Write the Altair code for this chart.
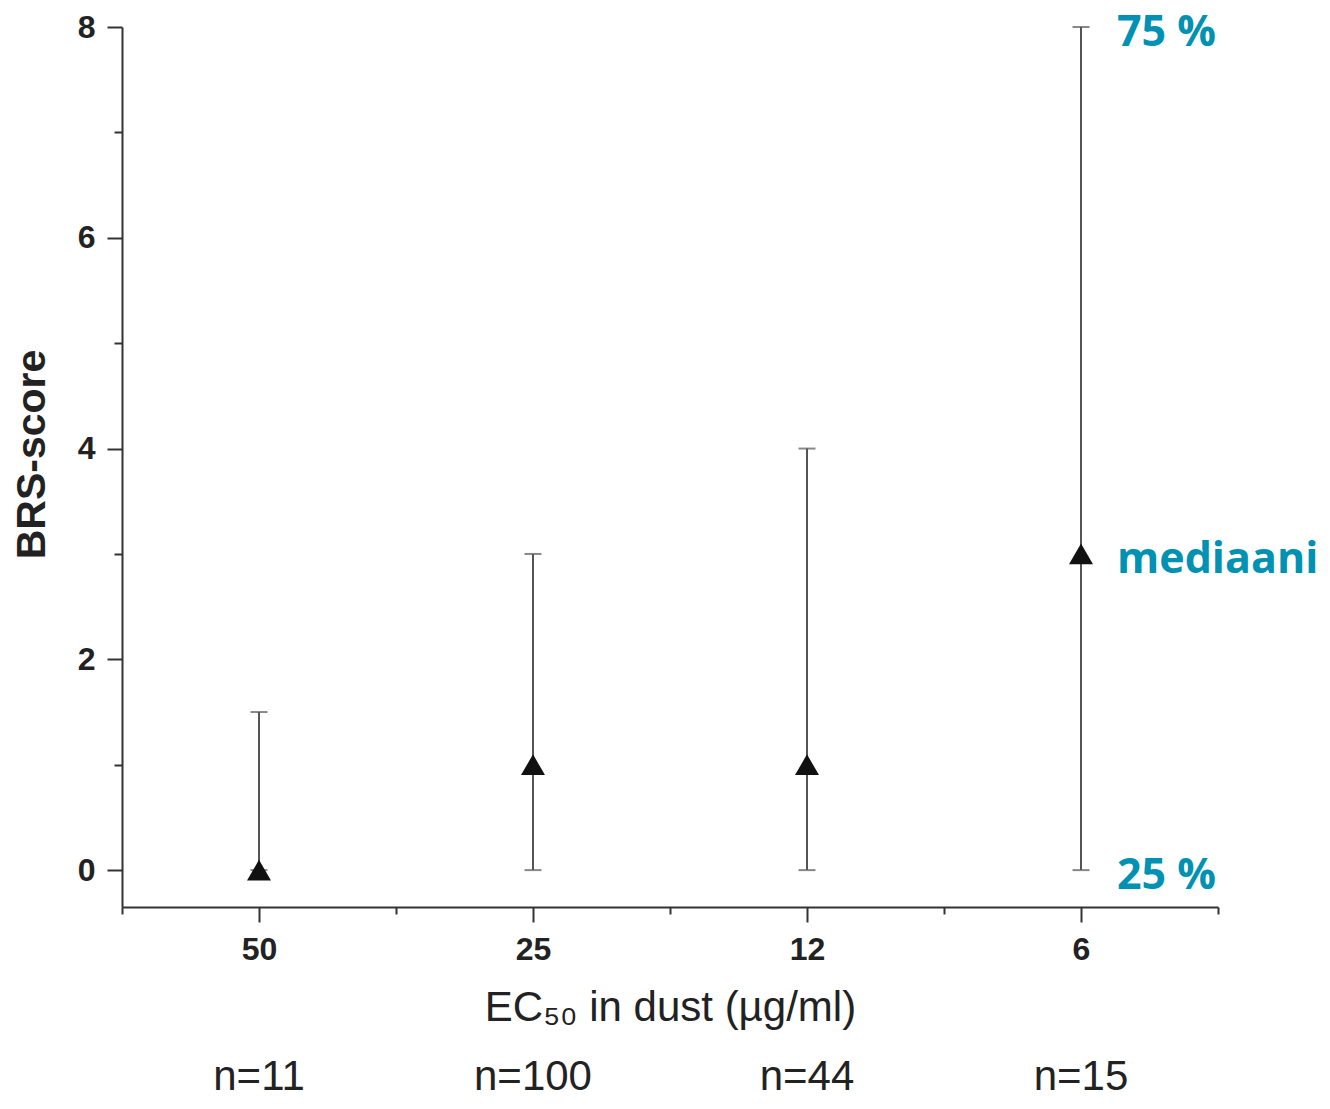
import altair as alt
import pandas as pd

# ---- data ----
categories = ["50", "25", "12", "6"]
positions = [1, 2, 3, 4]
medians = [0, 1, 1, 3]
q1 = [0, 0, 0, 0]
q3 = [1.5, 3, 4, 8]
n_labels = ["n=11", "n=100", "n=44", "n=15"]

ann_text = ["75 %", "mediaani", "25 %"]
ann_values = [8, 3, 0]
ann_pos = [4, 4, 4]

x_tick_values = [0.5, 1, 1.5, 2, 2.5, 3, 3.5, 4, 4.5]
y_tick_values = [0, 1, 2, 3, 4, 5, 6, 7, 8]

df = pd.DataFrame({"pos": positions, "cat": categories, "median": medians,
                   "q1": q1, "q3": q3, "n": n_labels})
ann = pd.DataFrame({"pos": ann_pos, "value": ann_values, "text": ann_text})

AX = "#333333"
FONT = "Liberation Sans"

cat_js = "[''," + ",".join("'" + c + "'" for c in categories) + "]"
x_label_expr = "datum.value % 1 == 0 ? " + cat_js + "[datum.value] : ''"

xaxis = alt.Axis(
    values=x_tick_values,
    labelExpr=x_label_expr,
    tickSize=15, tickWidth=2, tickColor=AX,
    tickDash={"condition": {"test": "datum.value % 1 != 0", "value": [7, 40]}, "value": [40, 1]},
    domainColor=AX, domainWidth=2, grid=False,
    labelFont=FONT, labelFontSize=32, labelFontWeight="bold", labelColor="#222222",
    labelPadding=12,
    title="EC₅₀ in dust (µg/ml)",
    titleFont=FONT, titleFontSize=42, titleFontWeight="normal", titleColor="#222222",
    titlePadding=22,
)
yaxis = alt.Axis(
    values=y_tick_values,
    labelExpr="datum.value % 2 == 0 ? datum.label : ''",
    tickSize=15, tickWidth=2, tickColor=AX,
    tickDash={"condition": {"test": "datum.value % 2 == 1", "value": [8, 40]}, "value": [40, 1]},
    domainColor=AX, domainWidth=2, grid=False,
    labelFont=FONT, labelFontSize=32, labelFontWeight="bold", labelColor="#222222",
    labelPadding=12,
    title="BRS-score",
    titleFont=FONT, titleFontSize=41, titleFontWeight="bold", titleColor="#222222",
    titlePadding=24, titleY=427,
)

xscale = alt.Scale(domain=[0.5, 4.5], nice=False, zero=False)
yscale = alt.Scale(domain=[-0.35, 8], nice=False, zero=False)


def X():
    return alt.X("pos:Q", scale=xscale, axis=xaxis)


def Y(field):
    return alt.Y(field + ":Q", scale=yscale, axis=yaxis)


base = alt.Chart(df)

whisk = base.mark_rule(color="#555555", strokeWidth=2).encode(
    x=X(), y=Y("q1"), y2="q3:Q")
cap_lo = base.mark_tick(orient="horizontal", size=17, thickness=2, color="#555555").encode(
    x=X(), y=Y("q1"))
cap_hi = base.mark_tick(orient="horizontal", size=17, thickness=2, color="#555555").encode(
    x=X(), y=Y("q3"))
pts = base.mark_point(shape="triangle-up", filled=True, size=576, color="#111111", opacity=1).encode(
    x=X(), y=Y("median"))
ntext = base.mark_text(font=FONT, fontSize=42, baseline="alphabetic", align="center",
                       color="#222222").encode(
    x=X(), y=alt.value(1063), text="n:N")
anno = alt.Chart(ann).mark_text(font="Open Sans", fontSize=43, fontWeight="bold",
                                align="left", baseline="middle", dx=36, dy=6,
                                color="#0091B3").encode(
    x=X(), y=Y("value"), text="text:N")

chart = alt.layer(whisk, cap_lo, cap_hi, pts, ntext, anno).properties(
    width=1096, height=880,
    autosize=alt.AutoSizeParams(type="none"),
    padding={"left": 114, "top": 19, "right": 104, "bottom": 194},
    background="white",
).configure_view(stroke=None)

chart.save("out.html", embed_options={"renderer": "svg", "actions": False})
